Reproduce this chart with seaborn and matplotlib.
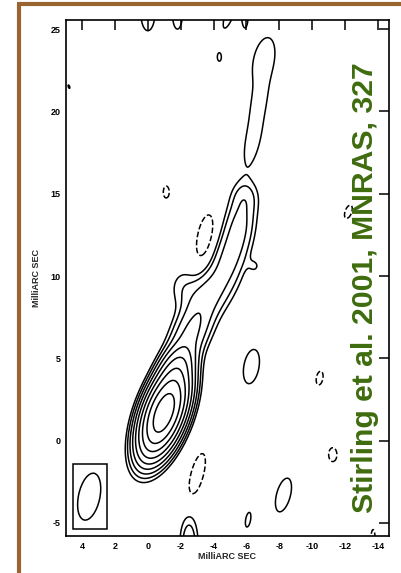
import numpy as np
import matplotlib
matplotlib.use("Agg")
import matplotlib.pyplot as plt
from matplotlib.patches import Ellipse, Rectangle
from matplotlib.lines import Line2D
import seaborn as sns

# Elliptical Gaussian brightness components (mas offsets, relative peak, sigma along
# major / minor axis in mas, position angle of major axis in degrees east of north)
src_x = [-0.97, -1.7, -2.6, -3.6, -4.9, -5.6, -5.9, -2.2, -6.5,
         -7.05, -6.75, -6.4, -4.35, 4.8,
         0.0, -1.8, -5.0, -5.9,
         -1.12, -3.5, -12.2, -6.3, -10.45, -11.25, -3.0, -8.25, -6.1, -2.5, -13.7]
src_y = [1.67, 4.3, 6.5, 8.8, 11.0, 13.2, 14.8, 9.3, 10.6,
         23.1, 20.6, 18.3, 23.3, 21.5,
         26.0, 25.9, 26.0, 25.9,
         15.1, 12.3, 13.9, 4.5, 3.8, -0.85, -2.05, -3.3, -4.8, -6.3, -5.9]
src_peak = [400, 30, 9, 5, 4.5, 4.5, 1.5, 1.5, 1.0,
            1.65, 1.2, 1.65, 1.65, 1.3,
            1.65, 1.65, 1.65, 1.65,
            -1.65, -1.65, -1.65, 1.65, -1.65, -1.65, -1.65, 1.65, 1.65, 3.5, -1.65]
src_major = [1.28, 0.9, 1.2, 1.2, 1.3, 1.3, 0.6, 0.8, 0.35,
             1.4, 1.0, 1.5, 0.25, 0.15,
             1.1, 0.9, 1.0, 0.8,
             0.36, 1.45, 0.42, 1.05, 0.42, 0.42, 1.3, 1.05, 0.45, 1.14, 0.5]
src_minor = [0.55, 0.5, 0.6, 0.7, 0.6, 0.55, 0.5, 0.6, 0.3,
             0.62, 0.35, 0.42, 0.12, 0.06,
             0.43, 0.3, 0.25, 0.2,
             0.18, 0.5, 0.2, 0.46, 0.2, 0.25, 0.38, 0.42, 0.15, 0.35, 0.12]
src_pa = [-20, -25, -25, -30, -15, -10, 0, 0, 0,
          -12, -12, -12, 0, 20,
          0, 0, -20, 0,
          0, -10, -20, -10, -10, 0, -15, -15, -10, 0, 0]

# Contour levels (multiples of the lowest contour)
contour_levels = [-1, 1, 2, 4, 8, 16, 32, 64, 128, 256]

# Restoring beam (centre, full widths in mas, tilt) and its frame
beam_x, beam_y = 3.57, -3.4
beam_width, beam_height, beam_angle = 1.3, 2.9, 12
beam_box = (2.48, -5.35, 4.55, -1.4)

x_ticks = [4, 2, 0, -2, -4, -6, -8, -10, -12, -14]
y_ticks = [-5, 0, 5, 10, 15, 20, 25]
axis_label = "MilliARC SEC"
credit = "Stirling et al. 2001, MNRAS, 327"

sns.set_theme(style="white")
plt.rcParams["font.family"] = ["Liberation Sans", "DejaVu Sans"]

# Brightness map on a regular grid
gx = np.arange(-16, 7, 0.04)
gy = np.arange(-8, 28, 0.04)
X, Y = np.meshgrid(gx, gy)
Z = np.zeros_like(X)
for x0, y0, amp, smaj, smin, pa in zip(src_x, src_y, src_peak, src_major, src_minor, src_pa):
    t = np.deg2rad(pa)
    dx, dy = X - x0, Y - y0
    a = dx * np.sin(t) + dy * np.cos(t)
    b = dx * np.cos(t) - dy * np.sin(t)
    Z += amp * np.exp(-0.5 * ((a / smaj) ** 2 + (b / smin) ** 2))

fig = plt.figure(figsize=(4.02, 5.73), dpi=100)
fig.patch.set_facecolor("white")
ax = fig.add_axes([66 / 402, 1 - 536 / 573, 323 / 402, 516 / 573])
ax.set_facecolor("white")

styles = ["dashed" if lv < 0 else "solid" for lv in contour_levels]
ax.contour(X, Y, Z, levels=contour_levels, colors="black",
           linewidths=1.1, linestyles=styles)

# Beam
bx0, by0, bx1, by1 = beam_box
ax.add_patch(Rectangle((bx0, by0), bx1 - bx0, by1 - by0, fill=False,
                       edgecolor="black", linewidth=1.1))
ax.add_patch(Ellipse((beam_x, beam_y), beam_width, beam_height, angle=beam_angle,
                     fill=False, edgecolor="black", linewidth=1.1))

ax.set_xlim(4.98, -14.67)
ax.set_ylim(-5.79, 25.55)
ax.set_xticks(x_ticks)
ax.set_yticks(y_ticks)
ax.set_xticklabels([str(v) for v in x_ticks])
ax.set_yticklabels([str(v) for v in y_ticks])
ax.tick_params(direction="in", length=7.5, width=1.1, top=True, right=True,
               labelsize=6.5, pad=4, colors="black")
for lab in ax.get_xticklabels() + ax.get_yticklabels():
    lab.set_fontweight("bold")
for sp in ax.spines.values():
    sp.set_linewidth(1.2)
    sp.set_color("black")
ax.set_xlabel(axis_label, fontsize=6.5, fontweight="bold", labelpad=1)
ax.set_ylabel(axis_label, fontsize=6.5, fontweight="bold", labelpad=7)
ax.grid(False)

# Credit line
fig.text(365 / 402, 1 - 288 / 573, credit, rotation=90, ha="center", va="center",
         fontsize=21.7, fontweight="bold", color="#3e6c0e")

# Brown frame on the left and top
brown = "#9a6430"
fig.add_artist(Line2D([19 / 402, 19 / 402], [0, 1 - 3.5 / 573], color=brown,
                      linewidth=3.0, transform=fig.transFigure, solid_capstyle="butt"))
fig.add_artist(Line2D([17 / 402, 1], [1 - 3.5 / 573, 1 - 3.5 / 573], color=brown,
                      linewidth=3.0, transform=fig.transFigure, solid_capstyle="butt"))

fig.savefig("out.png", dpi=100, facecolor="white")
